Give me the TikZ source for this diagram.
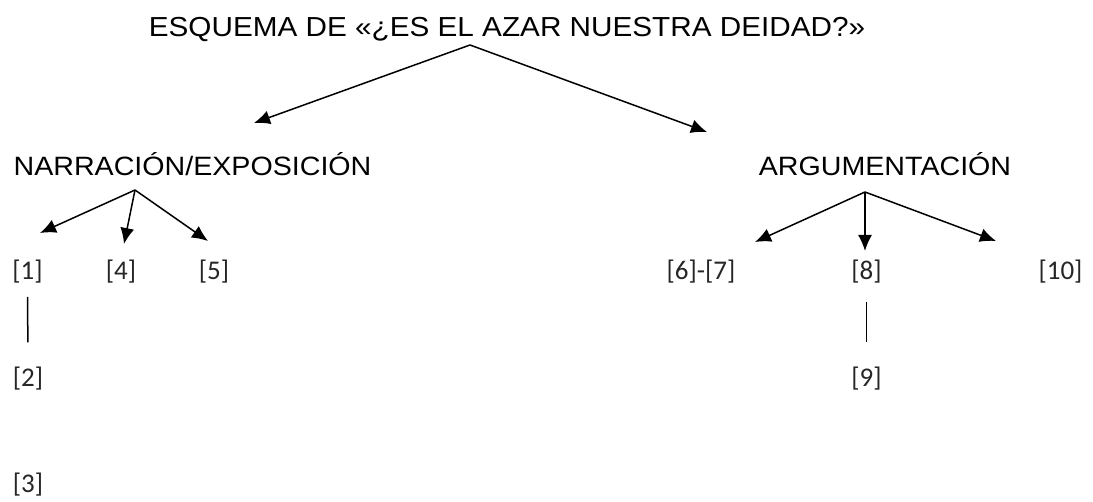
\documentclass[tikz,border=0pt]{standalone}
\usepackage{fontspec}
\setmainfont{Carlito}
\newfontfamily\headfont[FakeStretch=1.08]{Liberation Sans}
\usetikzlibrary{arrows.meta}

\tikzset{
  title/.style={font=\headfont\fontsize{27.5}{32}\selectfont, anchor=base, inner sep=0pt},
  head/.style={font=\headfont\fontsize{26.5}{30}\selectfont, anchor=base, inner sep=0pt},
  ref/.style={font=\fontsize{27}{30}\selectfont, anchor=base, inner sep=0pt, text=black!85},
  arr/.style={-{Latex[length=16pt,width=14pt]}, line width=1.5pt},
  tie/.style={line width=1.5pt}
}

\begin{document}
\begin{tikzpicture}[x=1pt, y=-1pt]
  \useasboundingbox (0,0) rectangle (1093,502);

  % headings
  \node[title] (esquema) at (507,37) {ESQUEMA DE «¿ES EL AZAR NUESTRA DEIDAD?»};
  \node[head] (narr) at (192.5,176) {NARRACIÓN/EXPOSICIÓN};
  \node[head] (arg) at (885,176) {ARGUMENTACIÓN};

  % paragraphs
  \node[ref] (p1) at (27.5,280) {[1]};
  \node[ref] (p2) at (28,387) {[2]};
  \node[ref] (p3) at (28,493) {[3]};
  \node[ref] (p4) at (121,280) {[4]};
  \node[ref] (p5) at (214,280) {[5]};
  \node[ref] (p67) at (701,280) {[6]-[7]};
  \node[ref] (p8) at (866.5,280) {[8]};
  \node[ref] (p9) at (866.5,387) {[9]};
  \node[ref] (p10) at (1060.5,280) {[10]};

  % branch points and arrow ends
  \coordinate (esquematop) at (470,45);
  \coordinate (narrtip) at (254,123);
  \coordinate (argtip) at (707,132);
  \coordinate (narrtop) at (135,190);
  \coordinate (p1tip) at (40,233);
  \coordinate (p4tip) at (124,244);
  \coordinate (p5tip) at (208,241);
  \coordinate (argtop) at (865,192);
  \coordinate (p67tip) at (755,242);
  \coordinate (p8tip) at (865,251);
  \coordinate (p10tip) at (996,241);

  \draw[arr] (esquematop) -- (narrtip);
  \draw[arr] (esquematop) -- (argtip);

  \foreach \tip in {p1tip, p4tip, p5tip}
    \draw[arr] (narrtop) -- (\tip);
  \foreach \tip in {p67tip, p8tip, p10tip}
    \draw[arr] (argtop) -- (\tip);

  \draw[tie, shorten <=13pt, shorten >=25pt] (p1) -- (p2);
  \draw[tie, shorten <=18pt, shorten >=25pt] (p8) -- (p9);

\end{tikzpicture}
\end{document}
